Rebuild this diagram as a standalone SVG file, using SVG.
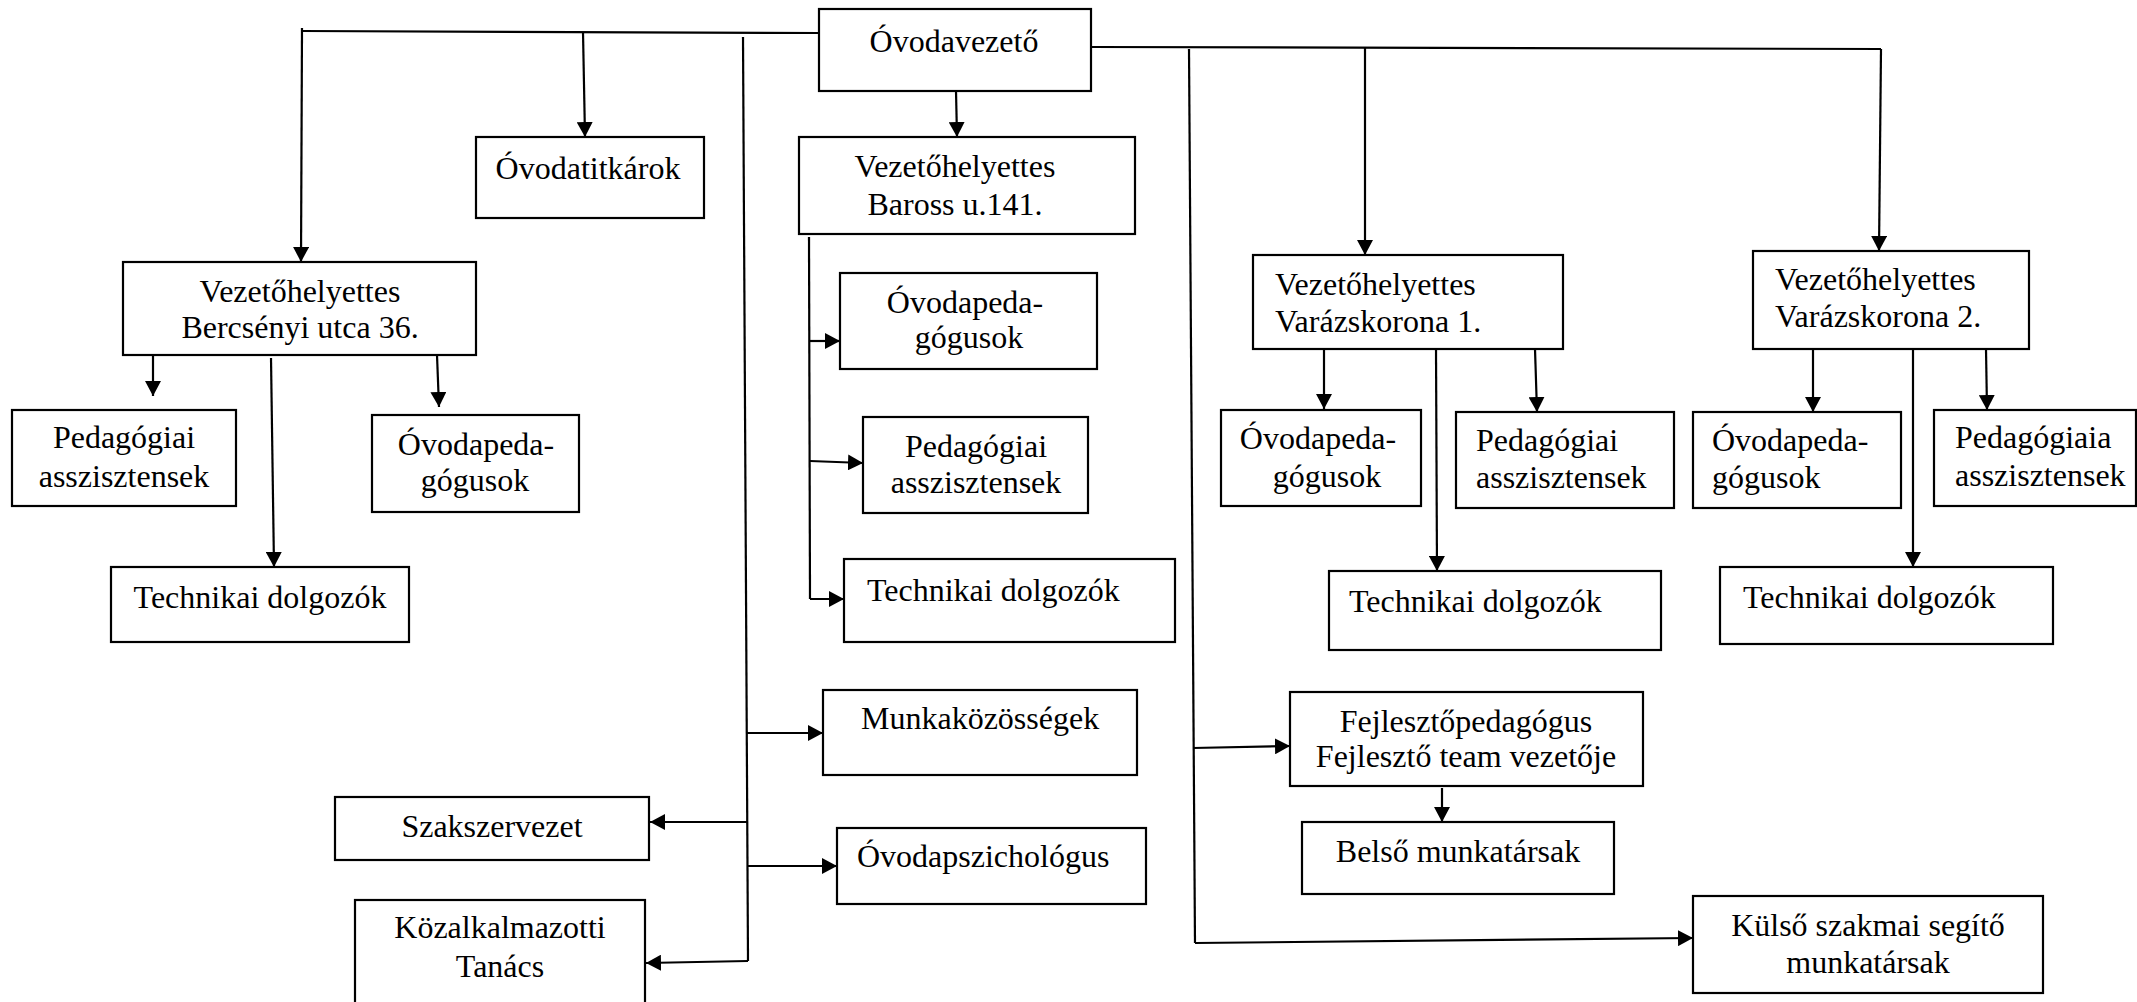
<svg xmlns="http://www.w3.org/2000/svg" width="2137" height="1002" viewBox="0 0 2137 1002">
<style>
.box{fill:#fff;stroke:#000;stroke-width:2.2}
.t{font-family:"Liberation Serif","Times New Roman",serif;font-size:32px;fill:#000}
.c{text-anchor:middle}
.ln{fill:none;stroke:#000;stroke-width:2.2}
.ar{fill:none;stroke:#000;stroke-width:2.2;marker-end:url(#ah)}
</style>
<defs>
<marker id="ah" viewBox="0 0 15 16" refX="15" refY="8" markerWidth="15" markerHeight="16" markerUnits="userSpaceOnUse" orient="auto">
<path d="M0,0 L15,8 L0,16 Z" fill="#000"/>
</marker>
</defs>
<rect width="2137" height="1002" fill="#fff"/>
<g id="connectors">
<polyline class="ln" points="302,31 819,33"/>
<line class="ar" x1="302" y1="28" x2="301" y2="262"/>
<line class="ar" x1="583" y1="32" x2="585" y2="137"/>
<line class="ln" x1="743" y1="37" x2="748" y2="961"/>
<line class="ar" x1="956" y1="91" x2="957" y2="137"/>
<polyline class="ln" points="1091,47 1881,49"/>
<line class="ar" x1="1365" y1="48" x2="1365" y2="255"/>
<line class="ar" x1="1881" y1="49" x2="1879" y2="251"/>
<line class="ln" x1="1189" y1="49" x2="1195" y2="943"/>
<line class="ar" x1="1195" y1="943" x2="1693" y2="938"/>
<line class="ln" x1="809" y1="237" x2="810" y2="599"/>
<line class="ar" x1="809" y1="341" x2="840" y2="341"/>
<line class="ar" x1="810" y1="461" x2="863" y2="463"/>
<line class="ar" x1="810" y1="599" x2="844" y2="599"/>
<line class="ar" x1="153" y1="355" x2="153" y2="396"/>
<line class="ar" x1="271" y1="358" x2="274" y2="567"/>
<line class="ar" x1="437" y1="355" x2="439" y2="407"/>
<line class="ar" x1="746" y1="733" x2="823" y2="733"/>
<line class="ar" x1="747" y1="822" x2="650" y2="822"/>
<line class="ar" x1="747" y1="866" x2="837" y2="866"/>
<line class="ar" x1="748" y1="961" x2="646" y2="963"/>
<line class="ar" x1="1193" y1="748" x2="1290" y2="746"/>
<line class="ar" x1="1442" y1="788" x2="1442" y2="822"/>
<line class="ar" x1="1324" y1="349" x2="1324" y2="409"/>
<line class="ar" x1="1436" y1="349" x2="1437" y2="571"/>
<line class="ar" x1="1535" y1="349" x2="1537" y2="412"/>
<line class="ar" x1="1813" y1="346" x2="1813" y2="412"/>
<line class="ar" x1="1913" y1="349" x2="1913" y2="567"/>
<line class="ar" x1="1986" y1="349" x2="1987" y2="410"/>
</g>
<g id="ovodavezeto"><rect class="box" x="819" y="9" width="272" height="82"/><text class="t c" x="954" y="52">Óvodavezető</text></g>
<g id="ovodatitkarok"><rect class="box" x="476" y="137" width="228" height="81"/><text class="t c" x="588" y="179">Óvodatitkárok</text></g>
<g id="vh-baross"><rect class="box" x="799" y="137" width="336" height="97"/><text class="t c" x="955" y="177">Vezetőhelyettes</text><text class="t c" x="955" y="215">Baross u.141.</text></g>
<g id="vh-bercsenyi"><rect class="box" x="123" y="262" width="353" height="93"/><text class="t c" x="300" y="302">Vezetőhelyettes</text><text class="t c" x="300" y="338">Bercsényi utca 36.</text></g>
<g id="ped-assz-bercsenyi"><rect class="box" x="12" y="410" width="224" height="96"/><text class="t c" x="124" y="448">Pedagógiai</text><text class="t c" x="124" y="487">asszisztensek</text></g>
<g id="ovodaped-bercsenyi"><rect class="box" x="372" y="415" width="207" height="97"/><text class="t c" x="476" y="455">Óvodapeda-</text><text class="t c" x="475" y="491">gógusok</text></g>
<g id="tech-bercsenyi"><rect class="box" x="111" y="567" width="298" height="75"/><text class="t c" x="260" y="608">Technikai dolgozók</text></g>
<g id="ovodaped-baross"><rect class="box" x="840" y="273" width="257" height="96"/><text class="t c" x="965" y="313">Óvodapeda-</text><text class="t c" x="969" y="348">gógusok</text></g>
<g id="ped-assz-baross"><rect class="box" x="863" y="417" width="225" height="96"/><text class="t c" x="976" y="457">Pedagógiai</text><text class="t c" x="976" y="493">asszisztensek</text></g>
<g id="tech-baross"><rect class="box" x="844" y="559" width="331" height="83"/><text class="t" x="867" y="601">Technikai dolgozók</text></g>
<g id="munkakozossegek"><rect class="box" x="823" y="690" width="314" height="85"/><text class="t" x="861" y="729">Munkaközösségek</text></g>
<g id="szakszervezet"><rect class="box" x="335" y="797" width="314" height="63"/><text class="t c" x="492" y="837">Szakszervezet</text></g>
<g id="ovodapszichologus"><rect class="box" x="837" y="828" width="309" height="76"/><text class="t" x="857" y="867">Óvodapszichológus</text></g>
<g id="kozalkalmazotti"><rect class="box" x="355" y="900" width="290" height="115"/><text class="t c" x="500" y="938">Közalkalmazotti</text><text class="t c" x="500" y="977">Tanács</text></g>
<g id="vh-varazskorona1"><rect class="box" x="1253" y="255" width="310" height="94"/><text class="t" x="1275" y="295">Vezetőhelyettes</text><text class="t" x="1275" y="332">Varázskorona 1.</text></g>
<g id="vh-varazskorona2"><rect class="box" x="1753" y="251" width="276" height="98"/><text class="t" x="1775" y="290">Vezetőhelyettes</text><text class="t" x="1775" y="327">Varázskorona 2.</text></g>
<g id="ovodaped-v1"><rect class="box" x="1221" y="410" width="200" height="96"/><text class="t c" x="1318" y="449">Óvodapeda-</text><text class="t c" x="1327" y="487">gógusok</text></g>
<g id="ped-assz-v1"><rect class="box" x="1456" y="412" width="218" height="96"/><text class="t" x="1476" y="451">Pedagógiai</text><text class="t" x="1476" y="488">asszisztensek</text></g>
<g id="tech-v1"><rect class="box" x="1329" y="571" width="332" height="79"/><text class="t" x="1349" y="612">Technikai dolgozók</text></g>
<g id="ovodaped-v2"><rect class="box" x="1693" y="412" width="208" height="96"/><text class="t" x="1712" y="451">Óvodapeda-</text><text class="t" x="1712" y="488">gógusok</text></g>
<g id="ped-assz-v2"><rect class="box" x="1934" y="410" width="202" height="96"/><text class="t" x="1955" y="448">Pedagógiaia</text><text class="t" x="1955" y="486">asszisztensek</text></g>
<g id="tech-v2"><rect class="box" x="1720" y="567" width="333" height="77"/><text class="t" x="1743" y="608">Technikai dolgozók</text></g>
<g id="fejleszto"><rect class="box" x="1290" y="692" width="353" height="94"/><text class="t c" x="1466" y="732">Fejlesztőpedagógus</text><text class="t c" x="1466" y="767">Fejlesztő team vezetője</text></g>
<g id="belso"><rect class="box" x="1302" y="822" width="312" height="72"/><text class="t c" x="1458" y="862">Belső munkatársak</text></g>
<g id="kulso"><rect class="box" x="1693" y="896" width="350" height="97"/><text class="t c" x="1868" y="936">Külső szakmai segítő</text><text class="t c" x="1868" y="973">munkatársak</text></g>
</svg>
